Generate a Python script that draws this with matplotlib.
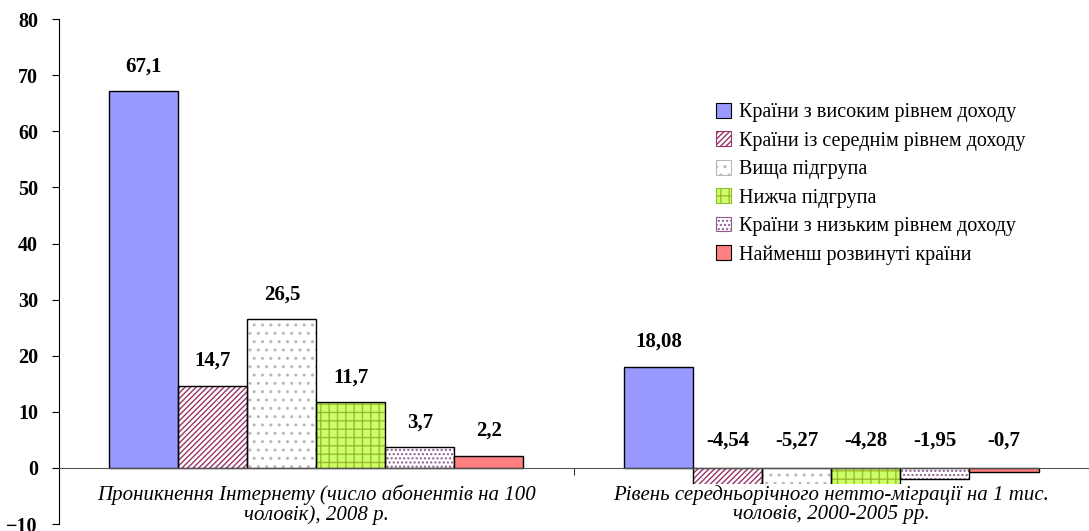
import numpy as np
import matplotlib.pyplot as plt

plt.rcParams['font.family'] = ['Liberation Serif', 'DejaVu Serif']
plt.rcParams['hatch.linewidth'] = 1.0

# data
categories = ['Проникнення Інтернету (число абонентів на 100\nчоловік), 2008 р.',
              'Рівень середньорічного нетто-міграції на 1 тис.\nчоловів, 2000-2005 рр.']
series = ['Країни з високим рівнем доходу',
          'Країни із середнім рівнем доходу',
          'Вища підгрупа',
          'Нижча підгрупа',
          'Країни з низьким рівнем доходу',
          'Найменш розвинуті країни']
values = [[67.1, 18.08],
          [14.7, -4.54],
          [26.5, -5.27],
          [11.7, -4.28],
          [3.7, -1.95],
          [2.2, -0.7]]
labels = [['67,1', '18,08'],
          ['14,7', '-4,54'],
          ['26,5', '-5,27'],
          ['11,7', '-4,28'],
          ['3,7', '-1,95'],
          ['2,2', '-0,7']]

# styles: face, hatch, hatch colour
styles = [('#9999FF', None, None),
          ('white', '//////', '#993366'),
          ('white', '..', '#B8B8B8'),
          ('#CCFF66', '++', '#99BB33'),
          ('white', '....', '#8E5A8E'),
          ('#FF8080', None, None)]

fig = plt.figure(figsize=(10.89, 5.31), dpi=100)
ax = fig.add_axes([0.054, 0.013, 0.946, 0.951])

x = np.arange(len(categories))
w = 0.134
handles = []
for i, (name, vals) in enumerate(zip(series, values)):
    pos = x + (i - 2.5) * w
    face, hatch, hc = styles[i]
    if hatch:
        ax.bar(pos, vals, w, color=face, hatch=hatch, edgecolor=hc, linewidth=0, zorder=2)
    ax.bar(pos, vals, w, facecolor=face if not hatch else 'none', edgecolor='black',
           linewidth=1.0, zorder=3)
    h = plt.Rectangle((0, 0), 1, 1, facecolor=face, hatch=hatch,
                      edgecolor=hc if hatch else 'black', linewidth=0.8)
    handles.append(h)
    for p, v, t in zip(pos, vals, labels[i]):
        ty = v + 2.6 if v > 0 else 3.1
        ax.text(p, ty, t, ha='center', va='bottom', fontsize=15, fontweight='bold')

# category labels with white background over the negative bars
for xi, cat in zip(x, categories):
    ax.text(xi, -3.0, cat, ha='center', va='top', fontsize=15, style='italic',
            linespacing=1.0, zorder=5,
            bbox=dict(facecolor='white', edgecolor='none', pad=0.5))

ax.set_xlim(-0.5, 1.5)
ax.set_ylim(-10, 80)
ax.set_yticks(np.arange(-10, 81, 10))
ax.tick_params(axis='y', direction='out', length=5, labelsize=14.5, pad=10)
for lab in ax.get_yticklabels():
    lab.set_fontweight('bold')

ax.spines['top'].set_visible(False)
ax.spines['right'].set_visible(False)
ax.spines['bottom'].set_position(('data', 0))
ax.spines['bottom'].set_color('#555555')
ax.spines['bottom'].set_zorder(4)
ax.set_xticks([])
ax.set_xticks([0.5], minor=True)
ax.tick_params(axis='x', which='minor', length=5, direction='out', labelbottom=False)

ax.legend(handles, series, loc='upper left', bbox_to_anchor=(0.62, 0.87),
          frameon=False, fontsize=14.5, handlelength=0.75, handleheight=0.75,
          handletextpad=0.4, labelspacing=0.45)

fig.savefig('out.png', dpi=100)
